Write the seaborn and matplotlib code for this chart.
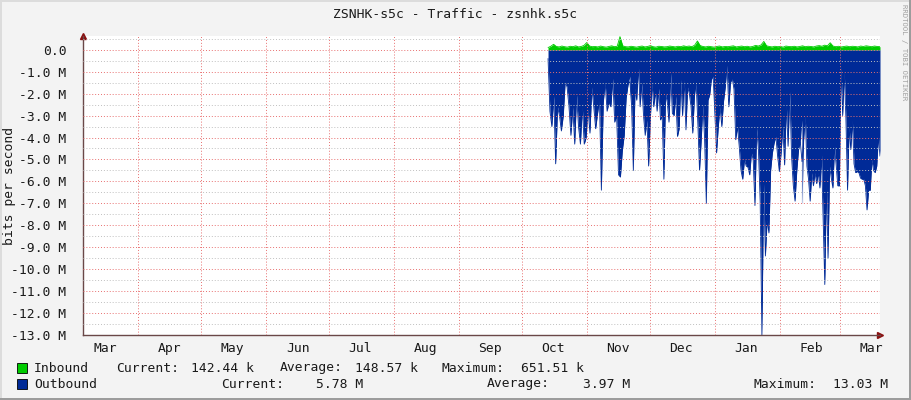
import matplotlib
matplotlib.use('Agg')
import matplotlib.pyplot as plt
import matplotlib.dates as mdates
from matplotlib.patches import Rectangle
from matplotlib.ticker import MultipleLocator, FuncFormatter
import seaborn as sns
import numpy as np
import pandas as pd

# --- textes ---
title = 'ZSNHK-s5c - Traffic - zsnhk.s5c'
ylabel = 'bits per second'
watermark = 'RRDTOOL / TOBI OETIKER'

# fenetre de temps affichee
x_start = pd.Timestamp('2015-03-05 14:00')
x_end = pd.Timestamp('2016-03-19 22:00')

# --- donnees (M bits/s) ---
# outbound, dessine sous zero, en quatre morceaux
out_spans = [('2015-10-13 12:00', '2015-11-21 14:00'),
             ('2015-11-21 14:00', '2016-01-01 02:00'),
             ('2016-01-01 02:00', '2016-02-11 17:00'),
             ('2016-02-11 17:00', '2016-03-19 22:00')]
out_oct = [0.4, 2.8, 3.5, 2.1, 5.2, 2.6, 3.0, 3.7, 3.0, 1.45, 1.7, 2.6, 3.9, 2.6, 4.3,
           2.05, 3.5, 4.3, 2.6, 4.3, 4.0, 2.7, 3.8, 1.7, 2.6, 3.6, 2.9, 2.3, 6.4, 2.4,
           1.5, 2.8, 2.4, 2.6, 1.3, 3.3, 3.0, 5.7, 5.8, 4.6, 3.9, 2.2, 1.6, 1.2]
out_dec = [1.7, 2.6, 5.5, 1.75, 2.3, 0.75, 2.6, 1.5, 3.0, 3.9, 3.2, 5.3, 3.2, 1.5, 2.6,
           1.9, 2.8, 1.75, 3.2, 3.0, 5.9, 2.0, 2.4, 3.3, 1.05, 2.9, 3.0, 2.1, 3.95, 3.6,
           1.35, 3.0, 1.35, 3.65, 1.7, 2.0, 2.6, 3.8, 2.1, 1.5, 3.35, 5.5, 4.1, 2.5, 4.1,
           7.0, 2.3, 2.05, 1.35, 1.2, 3.35]
out_jan = [2.3, 4.7, 3.5, 2.6, 3.5, 2.35, 1.7, 0.7, 2.6, 1.5, 1.3, 1.8, 4.1, 3.5, 4.4,
           5.5, 5.9, 5.0, 5.3, 5.35, 5.7, 4.7, 5.0, 7.1, 3.55, 4.55, 6.9, 13.0, 6.1, 9.4,
           7.75, 8.35, 5.5, 4.7, 4.25, 3.95, 4.85, 5.55, 4.7, 3.5, 5.25, 2.5, 4.4, 1.9, 4.85,
           6.2, 6.9, 5.5, 4.55, 4.2, 3.2]
out_feb = [7.0, 4.1, 3.0, 5.3, 5.9, 6.9, 5.6, 6.2, 5.6, 6.1, 5.6, 6.3, 4.8, 7.75, 10.7,
           6.1, 9.5, 5.3, 5.85, 6.3, 4.4, 5.25, 6.2, 6.2, 0.75, 3.0, 1.0, 3.1, 6.4, 3.5,
           4.55, 3.2, 5.2, 5.6, 5.55, 5.6, 5.85, 5.9, 5.9, 6.2, 7.3, 6.4, 6.4, 5.0, 5.5,
           5.6, 5.3, 3.95, 4.85]
out_chunks = [out_oct, out_dec, out_jan, out_feb]

# inbound, au-dessus de zero
in_span = ('2015-10-13 12:00', '2016-03-19 22:00')
inbound = [0.10, 0.16, 0.25, 0.15, 0.13, 0.17, 0.14, 0.12, 0.16, 0.14,
           0.18, 0.13, 0.15, 0.20, 0.33, 0.17, 0.14, 0.15, 0.13, 0.17,
           0.14, 0.12, 0.15, 0.18, 0.14, 0.16, 0.60, 0.18, 0.14, 0.13,
           0.16, 0.14, 0.12, 0.15, 0.17, 0.13, 0.15, 0.19, 0.14, 0.12,
           0.16, 0.15, 0.13, 0.14, 0.17, 0.15, 0.13, 0.16, 0.14, 0.18,
           0.15, 0.17, 0.14, 0.21, 0.40, 0.19, 0.15, 0.13, 0.16, 0.14,
           0.12, 0.15, 0.17, 0.13, 0.15, 0.14, 0.16, 0.18, 0.13, 0.15,
           0.17, 0.14, 0.16, 0.13, 0.15, 0.20, 0.17, 0.22, 0.38, 0.18,
           0.15, 0.13, 0.16, 0.14, 0.15, 0.12, 0.17, 0.15, 0.14, 0.16,
           0.13, 0.15, 0.18, 0.14, 0.16, 0.15, 0.13, 0.17, 0.19, 0.16,
           0.21, 0.18, 0.32, 0.17, 0.14, 0.16, 0.13, 0.15, 0.17, 0.14,
           0.16, 0.15, 0.13, 0.17, 0.15, 0.18, 0.16, 0.14, 0.17, 0.15,
           0.14]

# legende
legend_rows = [
    ('Inbound', '#00CC00', [('Current:', 116), ('142.44 k', 191), ('Average:', 280),
                            ('148.57 k', 355), ('Maximum:', 442), ('651.51 k', 521)]),
    ('Outbound', '#002A97', [('Current:', 221), ('5.78 M', 316), ('Average:', 487),
                             ('3.97 M', 583), ('Maximum:', 753), ('13.03 M', 833)]),
]

# --- assemblage ---
frames = []
for (a, b), vals in zip(out_spans, out_chunks):
    t = pd.date_range(a, b, periods=len(vals))
    frames.append(pd.DataFrame({'time': t, 'value': -np.array(vals)}))
out_df = pd.concat(frames, ignore_index=True)
in_df = pd.DataFrame({'time': pd.date_range(in_span[0], in_span[1], periods=len(inbound)),
                      'value': inbound})

sns.set_theme(style='white')
plt.rcParams['font.family'] = ['DejaVu Sans Mono']
fs = 9.4

W, H = 911, 400
fig = plt.figure(figsize=(W / 100, H / 100), dpi=100, facecolor='#F3F3F3')
ax = fig.add_axes([83 / W, 65 / H, 797 / W, 299.5 / H])
ax.set_facecolor('white')

ax.fill_between(out_df['time'], out_df['value'], 0, color='#002A97', lw=0, zorder=1)
ax.fill_between(in_df['time'], in_df['value'], 0, color='#00CC00', lw=0, zorder=1)
sns.lineplot(data=out_df, x='time', y='value', ax=ax, color='#002A97', lw=0.6, zorder=1)
sns.lineplot(data=in_df, x='time', y='value', ax=ax, color='#00CC00', lw=0.6, zorder=1)

ax.set_xlim(x_start, x_end)
ax.set_ylim(-13.0, 0.65)

ax.yaxis.set_major_locator(MultipleLocator(1))
ax.yaxis.set_minor_locator(MultipleLocator(0.5))
ax.yaxis.set_major_formatter(FuncFormatter(lambda v, _: '0.0' if abs(v) < 1e-9 else f'{v:.1f} M'))
ax.xaxis.set_major_locator(mdates.MonthLocator(bymonthday=16))
ax.xaxis.set_major_formatter(mdates.DateFormatter('%b'))
ax.xaxis.set_minor_locator(mdates.MonthLocator())

ax.set_axisbelow(False)
dots = (0, (1, 2))
ax.grid(False)
ax.grid(which='major', axis='y', color='#E87070', ls=dots, lw=0.7)
ax.grid(which='minor', axis='y', color='#C0C0C0', ls=dots, lw=0.7)
ax.grid(which='minor', axis='x', color='#E87070', ls=dots, lw=0.7)

ax.tick_params(which='both', length=0, labelsize=fs, colors='#1A1A1A')
ax.tick_params(axis='y', pad=12)
ax.tick_params(axis='x', pad=5)
ax.set_xlabel('')
ax.set_ylabel('')

for s in ['top', 'right']:
    ax.spines[s].set_visible(False)
for s in ['left', 'bottom']:
    ax.spines[s].set_color('#6A4848')
    ax.spines[s].set_linewidth(1.0)

# fleches des axes
ax.plot([0], [1.0], marker='^', ms=5, color='#8B1010', transform=ax.transAxes, clip_on=False)
ax.plot([1.0], [0], marker='>', ms=5, color='#8B1010', transform=ax.transAxes, clip_on=False)

# titre, label, filigrane
fig.text(455 / W, 1 - 14 / H, title, ha='center', va='center', fontsize=fs, color='#1A1A1A')
fig.text(10 / W, 1 - 186 / H, ylabel, ha='center', va='center', rotation=90,
         fontsize=fs, color='#1A1A1A')
fig.text(904 / W, 1 - 4 / H, watermark, ha='center', va='top', rotation=270,
         fontsize=5.2, color='#A0A0A0')

# legende
for i, (name, col, items) in enumerate(legend_rows):
    yc = 368 + 16 * i
    fig.patches.append(Rectangle((17 / W, 1 - (yc + 5) / H), 10 / W, 10 / H,
                                 facecolor=col, edgecolor='black', lw=0.6,
                                 transform=fig.transFigure))
    fig.text(34 / W, 1 - yc / H, name, ha='left', va='center', fontsize=fs, color='#1A1A1A')
    for txt, xp in items:
        fig.text(xp / W, 1 - yc / H, txt, ha='left', va='center', fontsize=fs, color='#1A1A1A')

# bordure 3D
fig.patches.append(Rectangle((0, 1 - 2 / H), 1, 2 / H, facecolor='#DCDCDC', lw=0, transform=fig.transFigure))
fig.patches.append(Rectangle((0, 0), 2 / W, 1, facecolor='#DCDCDC', lw=0, transform=fig.transFigure))
fig.patches.append(Rectangle((0, 0), 1, 2 / H, facecolor='#9C9C9C', lw=0, transform=fig.transFigure))
fig.patches.append(Rectangle((1 - 2 / W, 0), 2 / W, 1, facecolor='#9C9C9C', lw=0, transform=fig.transFigure))

fig.savefig('out.png', dpi=100, facecolor=fig.get_facecolor())
plt.close(fig)
